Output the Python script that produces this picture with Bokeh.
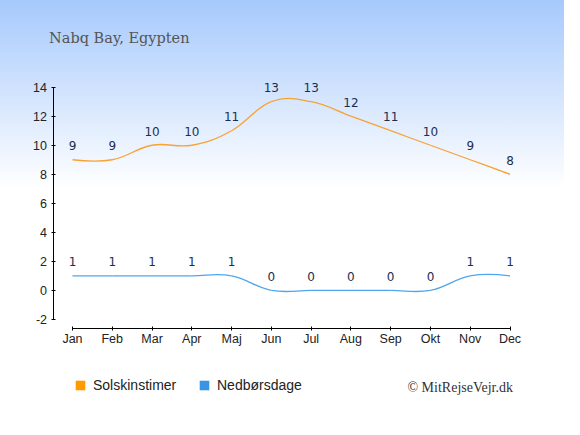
from bokeh.plotting import figure
from bokeh.models import FixedTicker, Label, Legend, LegendItem, ColumnDataSource
from bokeh.core.properties import value
from bokeh.embed import file_html
from bokeh.resources import INLINE

months = ["Jan", "Feb", "Mar", "Apr", "Maj", "Jun", "Jul", "Aug", "Sep", "Okt", "Nov", "Dec"]
sun_hours = [9, 9, 10, 10, 11, 13, 13, 12, 11, 10, 9, 8]
rain_days = [1, 1, 1, 1, 1, 0, 0, 0, 0, 0, 1, 1]
yticks = [-2, 0, 2, 4, 6, 8, 10, 12, 14]
title_text = "Nabq Bay, Egypten"
credit_text = "\u00a9 MitRejseVejr.dk"
sun_label = "Solskinstimer"
rain_label = "Nedb\u00f8rsdage"

SUN_LINE = "#f8a233"
SUN_KEY = "#ff9a00"
RAIN_LINE = "#4ea6ee"
RAIN_KEY = "#3a94e4"
LABEL_COLOR = "#1c2e50"


def spline_segments(xs, ys, smoothing=1.5):
    """Bezier segments through the points (spline smoothing as used by the original chart)."""
    n = len(xs)
    denom = smoothing + 1
    lc = [(xs[i], ys[i]) for i in range(n)]
    rc = [(xs[i], ys[i]) for i in range(n)]
    for i in range(1, n - 1):
        px, py = xs[i], ys[i]
        lx, ly = xs[i - 1], ys[i - 1]
        nx, ny = xs[i + 1], ys[i + 1]
        lcx = (smoothing * px + lx) / denom
        lcy = (smoothing * py + ly) / denom
        rcx = (smoothing * px + nx) / denom
        rcy = (smoothing * py + ny) / denom
        corr = 0.0
        if rcx != lcx:
            corr = ((rcy - lcy) * (rcx - px)) / (rcx - lcx) + py - rcy
        lc[i] = (lcx, lcy + corr)
        rc[i] = (rcx, rcy + corr)
    d = dict(x0=[], y0=[], x1=[], y1=[], cx0=[], cy0=[], cx1=[], cy1=[])
    for i in range(1, n):
        d["x0"].append(xs[i - 1]); d["y0"].append(ys[i - 1])
        d["x1"].append(xs[i]); d["y1"].append(ys[i])
        d["cx0"].append(rc[i - 1][0]); d["cy0"].append(rc[i - 1][1])
        d["cx1"].append(lc[i][0]); d["cy1"].append(lc[i][1])
    return d


xs = list(range(len(months)))

W, H = 564, 419
p = figure(
    width=W, height=H,
    x_range=(-1.810, 12.370), y_range=(-8.90, 19.975),
    output_backend="svg", toolbar_location=None,
    min_border=0,
)
p.background_fill_alpha = 0
p.border_fill_alpha = 0
p.outline_line_color = None
p.styles = {"background": "linear-gradient(to bottom, #a6c9fc 0px, #ffffff 188px, #ffffff 100%)"}
p.xgrid.visible = False
p.ygrid.visible = False

# axes, drawn inside the frame at fixed positions
p.yaxis.ticker = FixedTicker(ticks=yticks)
p.yaxis.bounds = (yticks[0], yticks[-1])
p.yaxis.fixed_location = -0.465
p.yaxis.major_label_overrides = {t: str(t) for t in yticks}
p.xaxis.ticker = FixedTicker(ticks=xs)
p.xaxis.bounds = (xs[0], xs[-1])
p.xaxis.fixed_location = -2.595
p.xaxis.major_label_overrides = {i: m for i, m in enumerate(months)}
for ax in (p.xaxis, p.yaxis):
    ax.axis_line_color = "#000000"
    ax.major_tick_line_color = "#000000"
    ax.minor_tick_line_color = None
    ax.major_tick_in = 2
    ax.major_tick_out = 2
    ax.major_label_text_font = "Liberation Sans"
    ax.major_label_text_font_size = "12.5px"
    ax.major_label_text_color = "#222222"
p.yaxis.major_label_standoff = 5
p.xaxis.major_label_standoff = 2

# lines
p.bezier(x0="x0", y0="y0", x1="x1", y1="y1", cx0="cx0", cy0="cy0", cx1="cx1", cy1="cy1",
         source=ColumnDataSource(spline_segments(xs, sun_hours)), line_color=SUN_LINE, line_width=1.3)
p.bezier(x0="x0", y0="y0", x1="x1", y1="y1", cx0="cx0", cy0="cy0", cx1="cx1", cy1="cy1",
         source=ColumnDataSource(spline_segments(xs, rain_days)), line_color=RAIN_LINE, line_width=1.3)

# data labels
for vals in (sun_hours, rain_days):
    src = ColumnDataSource(dict(x=xs, y=vals, t=[str(v) for v in vals]))
    p.text(x="x", y="y", text="t", source=src, text_align="center", text_baseline="alphabetic",
           y_offset=-14, text_font=value("DejaVu Sans"), text_font_size="12px", text_color=LABEL_COLOR)

# legend (two separate single-item legends; key glyphs have no visible area in the plot)
nan = float("nan")
r_sun = p.quad(left=[nan], right=[nan], top=[nan], bottom=[nan], fill_color=SUN_KEY, line_color=None)
r_rain = p.quad(left=[nan], right=[nan], top=[nan], bottom=[nan], fill_color=RAIN_KEY, line_color=None)
for r, lab, loc in ((r_sun, sun_label, (74, 26)), (r_rain, rain_label, (198, 26))):
    lg = Legend(items=[LegendItem(label=lab, renderers=[r])], location=loc,
                orientation="horizontal", padding=0, margin=0, border_line_color=None,
                background_fill_alpha=0, glyph_width=12, glyph_height=12, label_height=12,
                label_standoff=7, label_text_font="Liberation Sans", label_text_font_size="14px",
                label_text_color="#222222")
    p.add_layout(lg, "center")

# title and credit
p.add_layout(Label(x=48.6, y=H - 37.1, x_units="screen", y_units="screen", text=title_text,
                   text_font="DejaVu Serif", text_font_size="14.5px", text_color="#555555",
                   text_baseline="alphabetic", text_align="left"))
p.add_layout(Label(x=512.5, y=H - 386.7, x_units="screen", y_units="screen", text=credit_text,
                   text_font="Liberation Serif", text_font_size="14px", text_color="#333333",
                   text_baseline="alphabetic", text_align="right"))

open("out.html", "w").write(file_html(p, INLINE))
